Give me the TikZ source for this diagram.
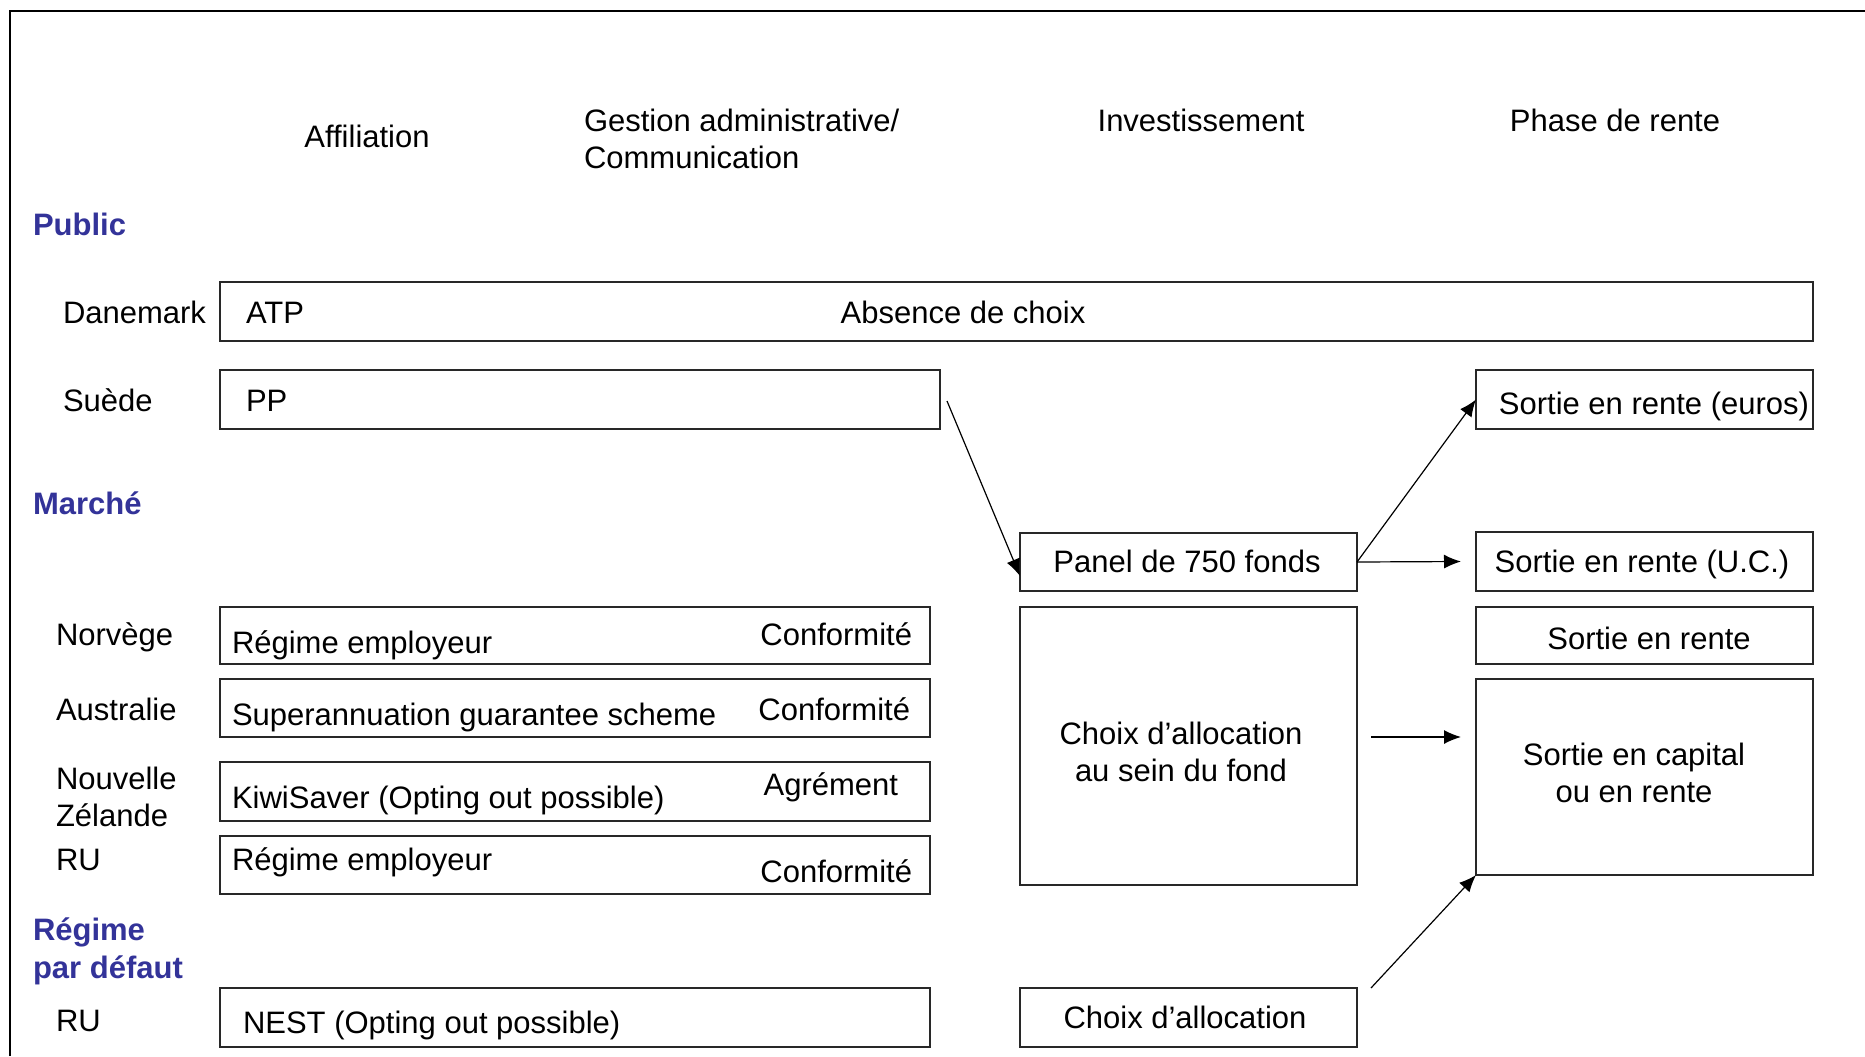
\documentclass[tikz,border=0pt]{standalone}
\usepackage{fontspec}
\setmainfont{Liberation Sans}
\usetikzlibrary{arrows.meta,fit,calc}
\definecolor{hblue}{RGB}{51,51,153}
\definecolor{boxline}{RGB}{40,40,40}
\begin{document}
\begin{tikzpicture}[x=0.5pt,y=-0.5pt,
  every node/.style={font=\fontsize{15.5}{18.5}\selectfont, inner sep=0pt, outer sep=0pt},
  box/.style={draw=boxline, line width=0.75pt, inner sep=0pt},
  head/.style={text=hblue, font=\fontsize{15.5}{19}\selectfont\bfseries},
  conn/.style={-{Latex[length=8.5pt,width=7pt]}, line width=0.6pt}]
\useasboundingbox (0,0) rectangle (1865,1056);
\fill[white] (0,0) rectangle (1865,1056);
% frame
\draw[line width=1.15pt] (10,1056) -- (10,11) -- (1865,11);

% column headers
\node[anchor=base] (hAff) at (367,147) {Affiliation};
\node[anchor=base west, align=left] (hGest) at (584,168) {Gestion administrative/\\Communication};
\node[anchor=base] (hInv) at (1201,131) {Investissement};
\node[anchor=base] (hPh) at (1615,131) {Phase de rente};

% section headings
\node[head, anchor=base west] (sPub) at (33,235) {Public};
\node[head, anchor=base west] (sMar) at (33,514) {Marché};
\node[head, anchor=base west, align=left] (sDef) at (33,978) {Régime\\par défaut};

% row labels
\node[anchor=base west] (lDan) at (63,323) {Danemark};
\node[anchor=base west] (lSue) at (63,411) {Suède};
\node[anchor=base west] (lNor) at (56,645) {Norvège};
\node[anchor=base west] (lAus) at (56,720) {Australie};
\node[anchor=base west, align=left] (lNZ) at (56,826) {Nouvelle\\Zélande};
\node[anchor=base west] (lRU) at (56,870) {RU};
\node[anchor=base west] (lRU2) at (56,1031) {RU};

% boxes
\node[box, fit={(220,282) (1813,341)}] (atp) {};
\node[box, fit={(220,370) (940,429)}] (pp) {};
\node[box, fit={(1476,370) (1813,429)}] (euros) {};
\node[box, fit={(1020,533) (1357,591)}] (panel) {};
\node[box, fit={(1476,532) (1813,591)}] (uc) {};
\node[box, fit={(220,607) (930,664)}] (nor) {};
\node[box, fit={(1020,607) (1357,885)}] (choix) {};
\node[box, fit={(1476,607) (1813,664)}] (sr) {};
\node[box, fit={(220,679) (930,737)}] (aus) {};
\node[box, fit={(1476,679) (1813,875)}] (cap) {};
\node[box, fit={(220,762) (930,821)}] (kiwi) {};
\node[box, fit={(220,836) (930,894)}] (ruemp) {};
\node[box, fit={(220,988) (930,1047)}] (nest) {};
\node[box, fit={(1020,988) (1357,1047)}] (alloc) {};

% box texts
\node[anchor=base west] (tAtp) at (246,323) {ATP};
\node[anchor=base] (tAbs) at (963,323) {Absence de choix};
\node[anchor=base west] (tPP) at (246,411) {PP};
\node[anchor=base] (tEur) at (1654,414) {Sortie en rente (euros)};
\node[anchor=base] (tPan) at (1187,572) {Panel de 750 fonds};
\node[anchor=base] (tUC) at (1642,572) {Sortie en rente (U.C.)};
\node[anchor=base west] (tNor) at (232,653) {Régime employeur};
\node[anchor=base east] (cNor) at (912,645) {Conformité};
\node[anchor=base] (tSr) at (1649,649) {Sortie en rente};
\node[anchor=base west] (tAus) at (232,725) {Superannuation guarantee scheme};
\node[anchor=base east] (cAus) at (910,720) {Conformité};
\node[anchor=base, align=center] (tCh) at (1181,781) {Choix d’allocation\\au sein du fond};
\node[anchor=base, align=center] (tCap) at (1634,802) {Sortie en capital\\ou en rente};
\node[anchor=base west] (tKiwi) at (232,808) {KiwiSaver (Opting out possible)};
\node[anchor=base east] (cKiwi) at (898,795) {Agrément};
\node[anchor=base west] (tRU) at (232,870) {Régime employeur};
\node[anchor=base east] (cRU) at (912,882) {Conformité};
\node[anchor=base west] (tNest) at (243,1033) {NEST (Opting out possible)};
\node[anchor=base] (tAl) at (1185,1028) {Choix d’allocation};

% connectors
\coordinate (a1s) at (947,401);
\coordinate (a4s) at (1371,737);
\coordinate (a4e) at (1461,737);
\coordinate (a5s) at (1371,988);
\draw[conn] (a1s) -- ([yshift=-7pt]panel.west);
\draw[conn] (panel.east) -- (euros.west);
\draw[conn] (panel.east) -- ([xshift=-7.5pt]uc.west);
\draw[conn] (a4s) -- (a4e);
\draw[conn] (a5s) -- (cap.south west);
\end{tikzpicture}
\end{document}
